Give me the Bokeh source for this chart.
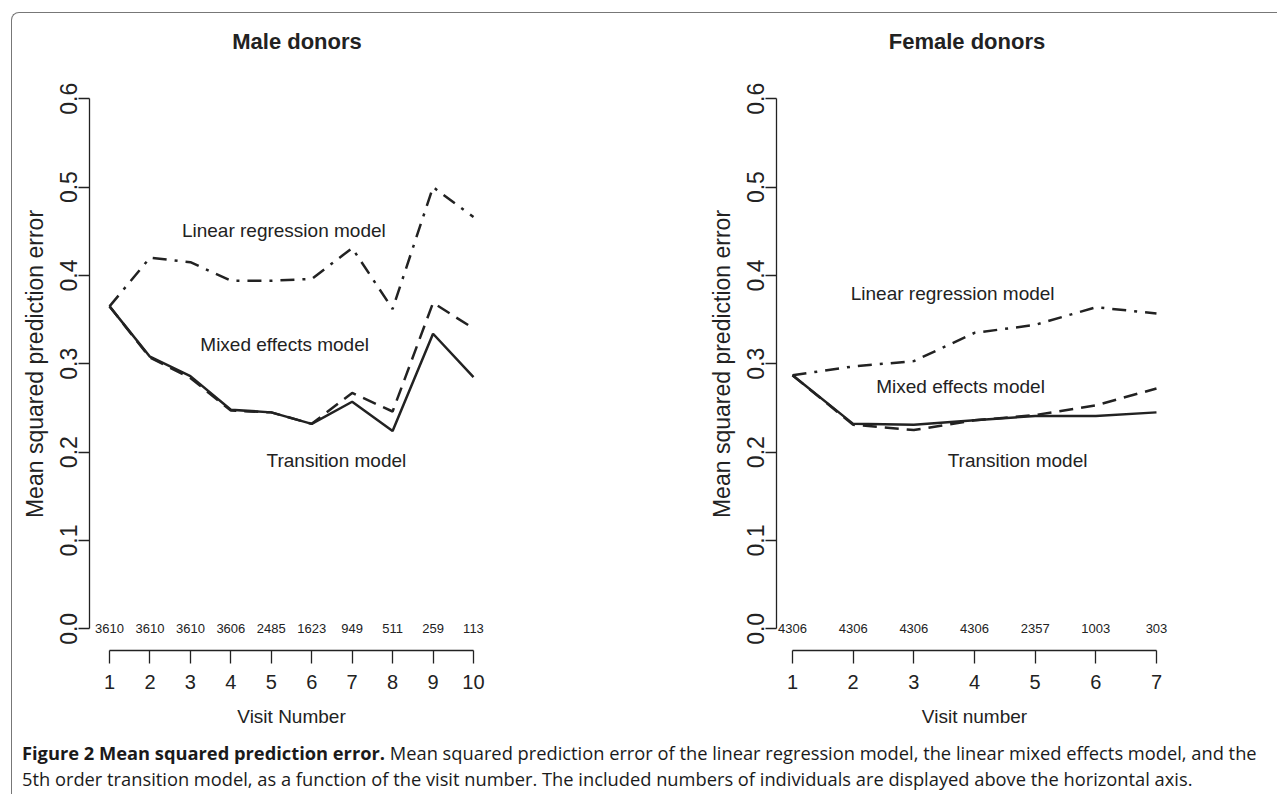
from bokeh.plotting import figure
from bokeh.models import Div, FixedTicker, Range1d, PrintfTickFormatter
from bokeh.layouts import row, column
from bokeh.core.properties import value
from bokeh.embed import file_html
from bokeh.resources import INLINE

# ---------------- data ----------------
male_visits = [1, 2, 3, 4, 5, 6, 7, 8, 9, 10]
male_linear = [0.365, 0.420, 0.415, 0.394, 0.394, 0.396, 0.431, 0.362, 0.500, 0.466]
male_mixed = [0.365, 0.307, 0.284, 0.247, 0.245, 0.232, 0.267, 0.246, 0.369, 0.340]
male_transition = [0.365, 0.308, 0.286, 0.248, 0.245, 0.232, 0.257, 0.224, 0.334, 0.285]
male_counts = ["3610", "3610", "3610", "3606", "2485", "1623", "949", "511", "259", "113"]

female_visits = [1, 2, 3, 4, 5, 6, 7]
female_linear = [0.287, 0.297, 0.303, 0.335, 0.344, 0.364, 0.357]
female_mixed = [0.287, 0.231, 0.225, 0.236, 0.242, 0.253, 0.272]
female_transition = [0.287, 0.232, 0.231, 0.236, 0.241, 0.241, 0.245]
female_counts = ["4306", "4306", "4306", "4306", "2357", "1003", "303"]

y_ticks = [0.0, 0.1, 0.2, 0.3, 0.4, 0.5, 0.6]
model_names = ["Linear regression model", "Mixed effects model", "Transition model"]
panel_titles = ["Male donors", "Female donors"]

# label anchor positions (data coordinates)
male_label_x = [5.31, 5.33, 6.61]
male_label_y = [0.451, 0.322, 0.190]
female_label_x = [3.64, 3.77, 4.71]
female_label_y = [0.380, 0.274, 0.190]

FN = "Liberation Sans"
INK = "#222222"


def panel(visits, lin, mix, trans, counts, lab_x, lab_y, xlabel,
          width, border_left, frame_w, pad):
    n = len(visits)
    p = figure(width=width, height=664,
               x_range=Range1d(1 - pad, n + pad),
               y_range=Range1d(-0.0245, 0.624),
               output_backend="svg", toolbar_location=None,
               min_border_left=border_left,
               min_border_right=width - border_left - frame_w,
               min_border_top=6, min_border_bottom=85,
               outline_line_color=None, background_fill_color="white",
               border_fill_color="white")
    p.grid.visible = False

    xa = p.xaxis[0]
    xa.ticker = FixedTicker(ticks=visits)
    xa.bounds = (1, n)
    xa.major_tick_out = 13
    xa.major_tick_in = 0
    xa.minor_tick_line_color = None
    xa.axis_line_color = INK
    xa.major_tick_line_color = INK
    xa.axis_line_width = 1.3
    xa.major_tick_line_width = 1.3
    xa.major_label_text_font = FN
    xa.major_label_text_font_size = "20px"
    xa.major_label_text_color = INK
    xa.major_label_standoff = 11
    xa.axis_label = xlabel
    xa.axis_label_text_font = FN
    xa.axis_label_text_font_size = "19px"
    xa.axis_label_text_font_style = "normal"
    xa.axis_label_text_color = INK
    xa.axis_label_standoff = 14

    ya = p.yaxis[0]
    ya.ticker = FixedTicker(ticks=y_ticks)
    ya.formatter = PrintfTickFormatter(format="%.1f")
    ya.bounds = (0, 0.6)
    ya.major_tick_out = 11
    ya.major_tick_in = 0
    ya.minor_tick_line_color = None
    ya.axis_line_color = INK
    ya.major_tick_line_color = INK
    ya.axis_line_width = 1.3
    ya.major_tick_line_width = 1.3
    ya.major_label_orientation = "vertical"
    ya.major_label_text_font = FN
    ya.major_label_text_font_size = "23px"
    ya.major_label_text_color = INK
    ya.major_label_standoff = 1
    ya.axis_label = "Mean squared prediction error"
    ya.axis_label_text_font = FN
    ya.axis_label_text_font_size = "23px"
    ya.axis_label_text_font_style = "normal"
    ya.axis_label_text_color = INK
    ya.axis_label_standoff = 10

    p.line(visits, lin, line_color=INK, line_width=2.5, line_dash="14 8 3 8")
    p.line(visits, mix, line_color=INK, line_width=2.5, line_dash="14 8")
    p.line(visits, trans, line_color=INK, line_width=2.5)

    p.text(x=visits, y=[0.0] * n, text=counts, text_font=value(FN),
           text_font_size="13px", text_align="center",
           text_baseline="middle", text_color=INK)
    p.text(x=lab_x, y=lab_y, text=model_names, text_font=value(FN),
           text_font_size="19px", text_align="center",
           text_baseline="middle", text_color=INK)
    return p


p1 = panel(male_visits, male_linear, male_mixed, male_transition,
           male_counts, male_label_x, male_label_y, "Visit Number",
           width=628, border_left=77, frame_w=404, pad=0.495)
p2 = panel(female_visits, female_linear, female_mixed, female_transition,
           female_counts, female_label_x, female_label_y, "Visit number",
           width=634, border_left=136, frame_w=396, pad=0.264)

title_style = {"font-family": "Liberation Sans", "font-size": "22px",
               "font-weight": "bold", "color": INK, "text-align": "center",
               "line-height": "58px", "white-space": "nowrap"}
t1 = Div(text=panel_titles[0], width=570, height=58, margin=(0, 58, 0, 0),
         styles=title_style)
t2 = Div(text=panel_titles[1], width=600, height=58, margin=(0, 0, 0, 27),
         styles=title_style)

caption = Div(
    text=("<b>Figure 2 Mean squared prediction error.</b> Mean squared prediction error "
          "of the linear regression model, the linear mixed effects model, and the<br>"
          "5th order transition model, as a function of the visit number. The included "
          "numbers of individuals are displayed above the horizontal axis."),
    width=1255, height=54, margin=(5, 0, 0, 10),
    styles={"font-family": "Open Sans", "font-size": "18.3px", "line-height": "26px",
            "color": "#1a1a1a", "white-space": "nowrap"})

layout = column(row(t1, t2), row(p1, p2), caption, margin=(12, 0, 0, 11),
                styles={"border-top": "1.5px solid #777",
                        "border-left": "1.5px solid #777",
                        "border-top-left-radius": "8px"})

open("out.html", "w").write(file_html(layout, INLINE))
